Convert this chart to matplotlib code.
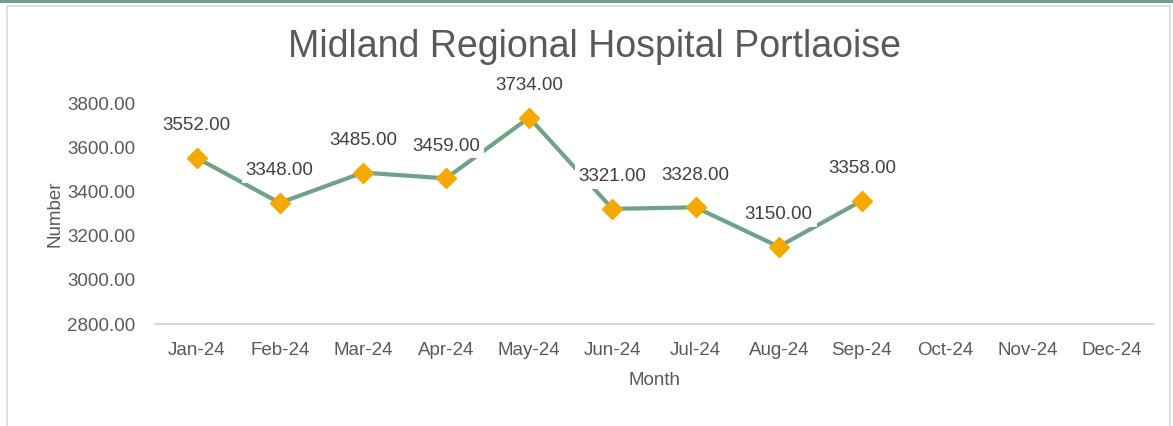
import matplotlib
matplotlib.use("Agg")
import matplotlib.pyplot as plt
from matplotlib.patches import Rectangle

months = ["Jan-24", "Feb-24", "Mar-24", "Apr-24", "May-24", "Jun-24",
          "Jul-24", "Aug-24", "Sep-24", "Oct-24", "Nov-24", "Dec-24"]
values = [3552, 3348, 3485, 3459, 3734, 3321, 3328, 3150, 3358]
yticks = [2800, 3000, 3200, 3400, 3600, 3800]

plt.rcParams['font.family'] = ['Liberation Sans', 'DejaVu Sans']
txt = '#595959'

fig = plt.figure(figsize=(11.73, 4.26), dpi=100)
fig.patches.append(Rectangle((0, 1 - 3/426), 1, 3/426, transform=fig.transFigure,
                             facecolor='#6fa08c', edgecolor='none'))
fig.patches.append(Rectangle((7/1173, -0.01), (1170-7)/1173, (426-6)/426 + 0.01,
                             transform=fig.transFigure, facecolor='none',
                             edgecolor='#d9d9d9', linewidth=1.2))

ax = fig.add_axes([155/1173, (426-324)/426, (1153-155)/1173, (324-103)/426])
x = list(range(len(values)))
ax.plot(x, values, color='#6fa287', linewidth=3, zorder=2,
        marker='D', markersize=10, markerfacecolor='#f5a800',
        markeredgecolor='#f5a800')
for xi, v in zip(x, values):
    ax.annotate(f"{v:.2f}", (xi, v), xytext=(0, 17), textcoords='offset points',
                ha='center', va='bottom', fontsize=13.5, color='#404040', zorder=3,
                bbox=dict(boxstyle='square,pad=0.2', facecolor='white', edgecolor='none'))

ax.set_xlim(-0.5, 11.5)
ax.set_ylim(2800, 3800)
ax.set_xticks(range(len(months)))
ax.set_xticklabels(months)
ax.set_yticks(yticks)
ax.set_yticklabels([f"{t:.2f}" for t in yticks])
ax.tick_params(axis='both', length=0, labelsize=13.5, labelcolor=txt)
ax.tick_params(axis='y', pad=14)
ax.tick_params(axis='x', pad=13)
for s in ['top', 'right', 'left']:
    ax.spines[s].set_visible(False)
ax.spines['bottom'].set_color('#d9d9d9')
ax.spines['bottom'].set_linewidth(1.5)

ax.set_xlabel("Month", fontsize=13.5, color=txt, labelpad=9)
ax.set_ylabel("Number", fontsize=13.5, color=txt, labelpad=3)
fig.text(595/1173, 1 - 47/426, "Midland Regional Hospital Portlaoise",
         ha='center', va='center', fontsize=27, color=txt)

fig.savefig("out.png", dpi=100)
